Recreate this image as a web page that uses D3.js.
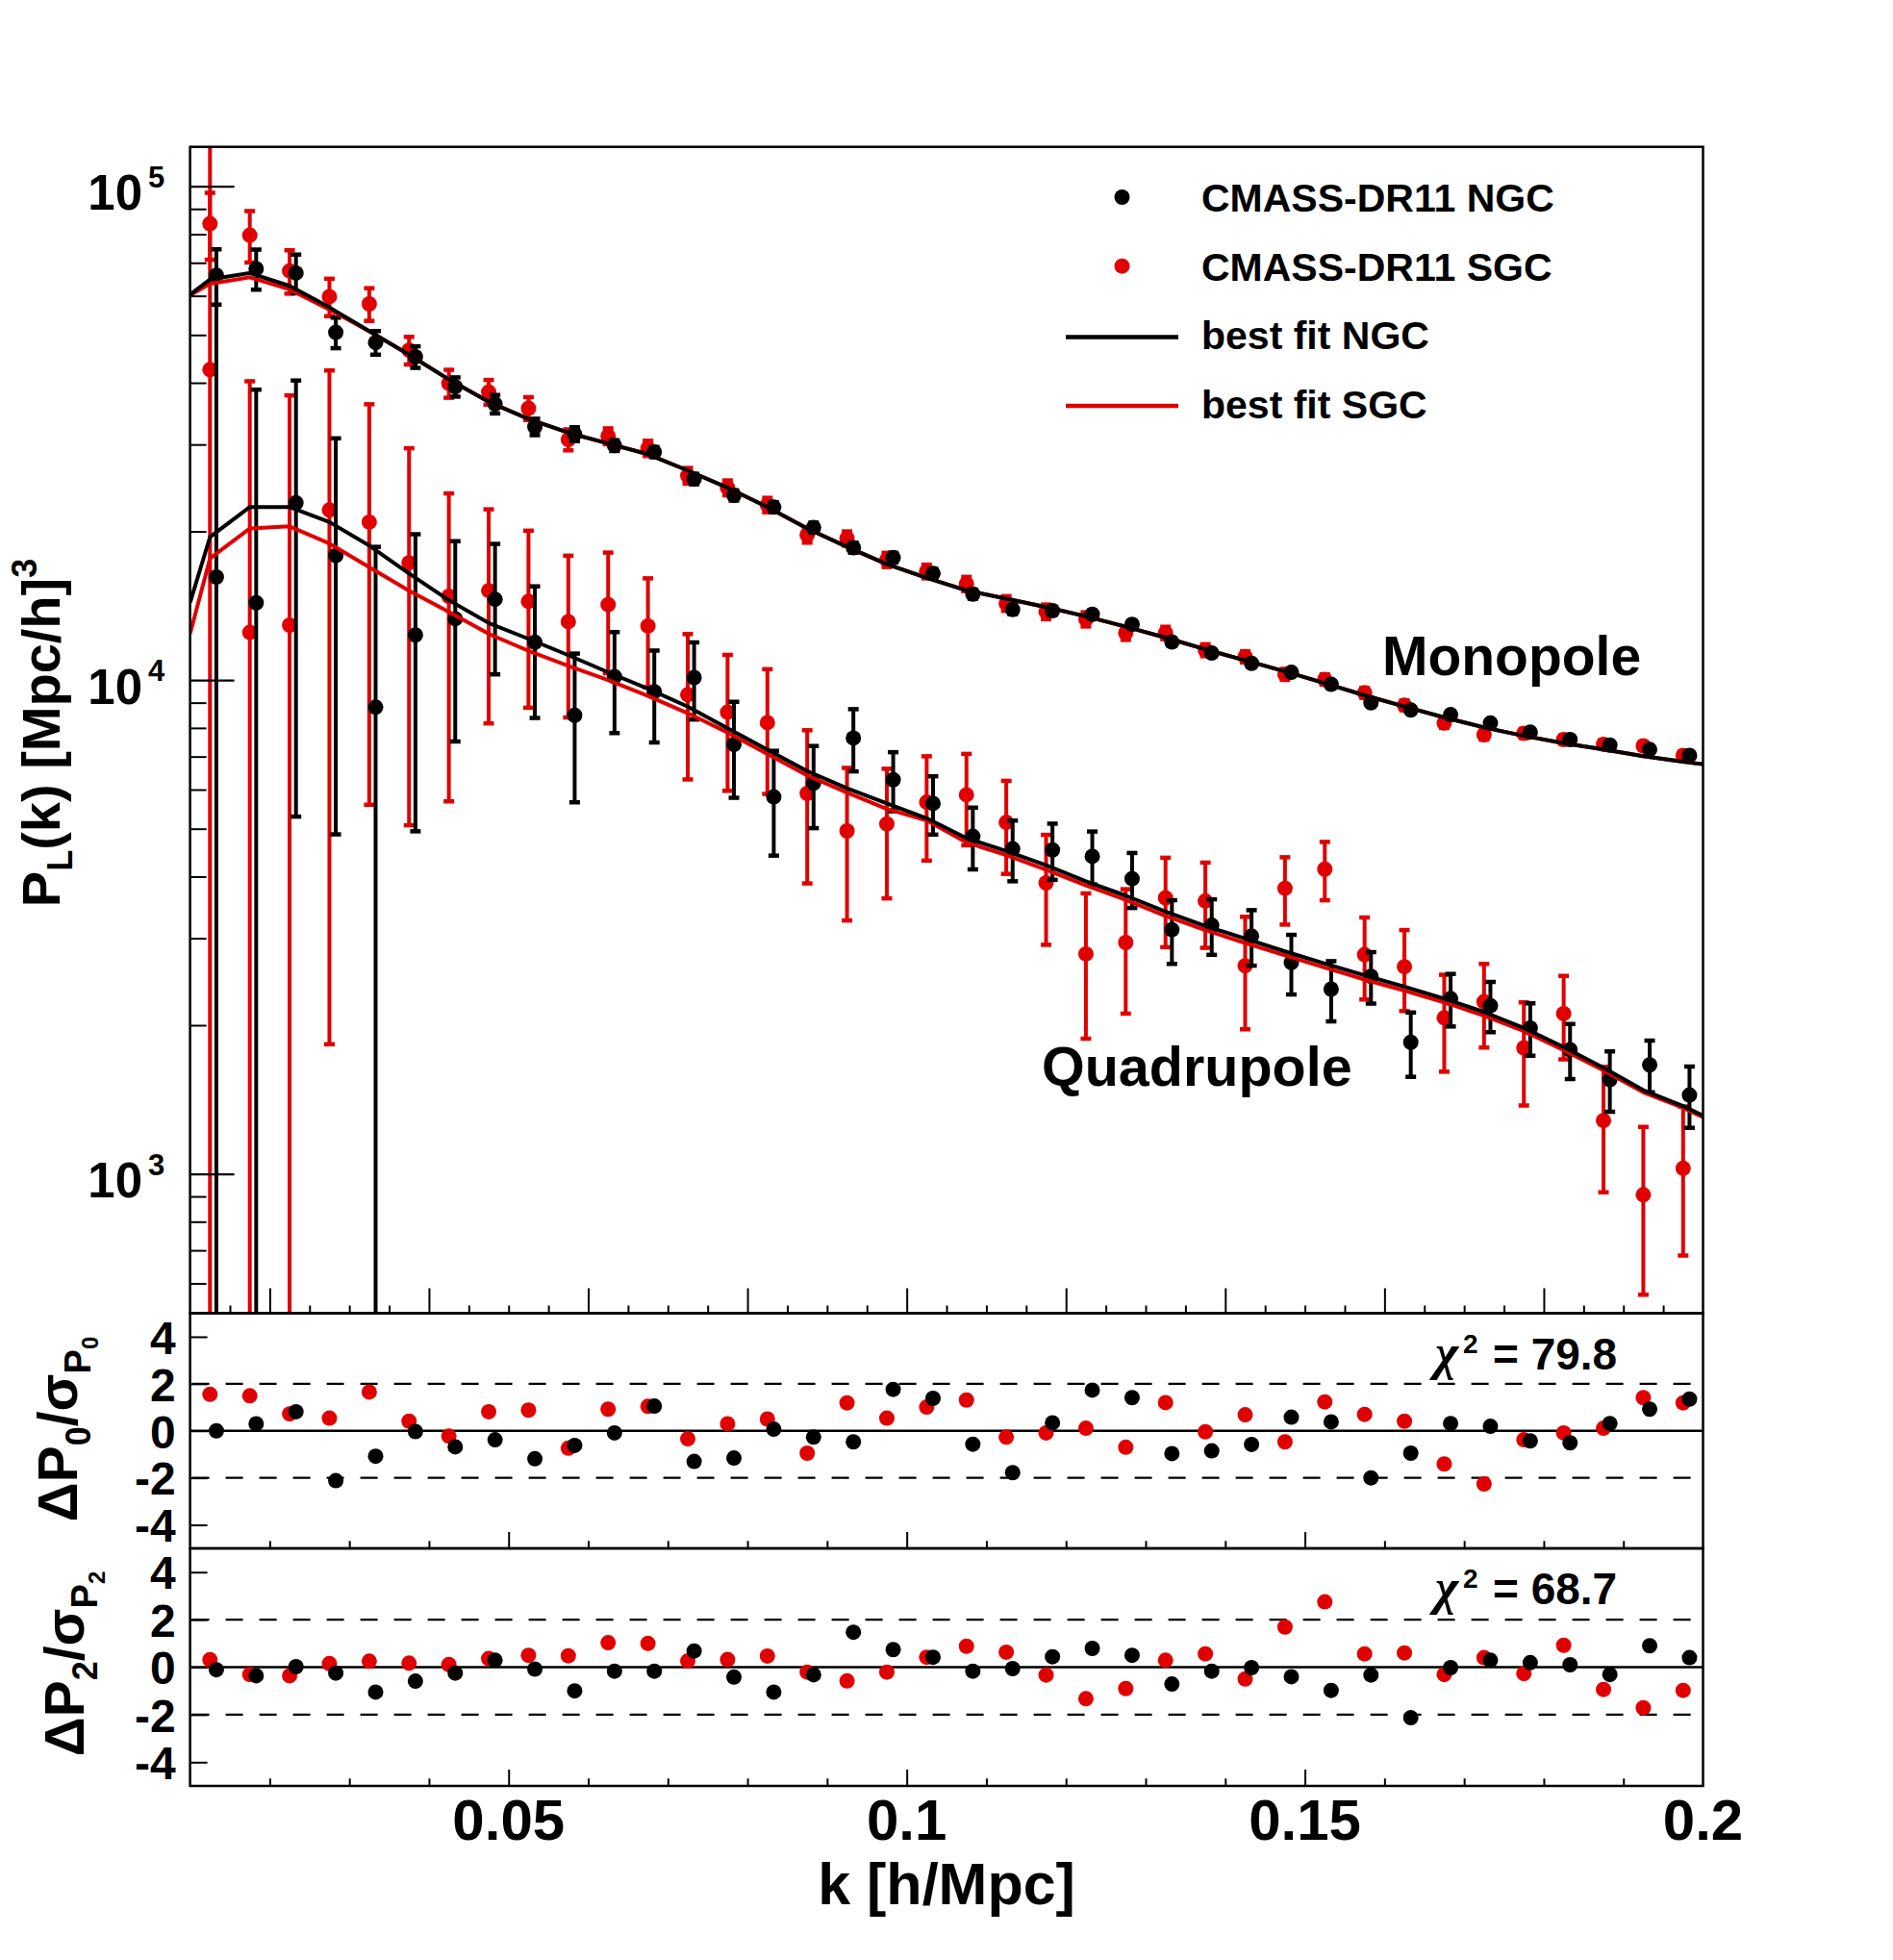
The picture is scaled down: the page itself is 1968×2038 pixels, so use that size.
<!DOCTYPE html>
<html>
<head>
<meta charset="utf-8">
<script src="https://cdn.jsdelivr.net/npm/d3@7/dist/d3.min.js"></script>
<style>
html,body{margin:0;padding:0;background:#ffffff;}
svg text{font-family:"Liberation Sans",Arial,Helvetica,sans-serif;font-weight:bold;fill:#000;}
</style>
</head>
<body>
<svg id="chart" width="1968" height="2038" xmlns="http://www.w3.org/2000/svg"></svg>
<script>
// ---------------- data ----------------
const kNGC = [0.0133,0.0183,0.0233,0.0283,0.0333,0.0383,0.0433,0.0483,0.0533,0.0583,0.0633,0.0683,0.0733,0.0783,0.0833,0.0883,0.0933,0.0983,0.1033,0.1083,0.1133,0.1183,0.1233,0.1283,0.1333,0.1383,0.1433,0.1483,0.1533,0.1583,0.1633,0.1683,0.1733,0.1783,0.1833,0.1883,0.1933,0.1983];
const kSGC = [0.0125,0.0175,0.0225,0.0275,0.0325,0.0375,0.0425,0.0475,0.0525,0.0575,0.0625,0.0675,0.0725,0.0775,0.0825,0.0875,0.0925,0.0975,0.1025,0.1075,0.1125,0.1175,0.1225,0.1275,0.1325,0.1375,0.1425,0.1475,0.1525,0.1575,0.1625,0.1675,0.1725,0.1775,0.1825,0.1875,0.1925,0.1975];
const kModel = [0.01,0.0125,0.0175,0.0225,0.0275,0.0325,0.0375,0.0425,0.0475,0.0525,0.0575,0.0625,0.0675,0.0725,0.0775,0.0825,0.0875,0.0925,0.0975,0.1025,0.1075,0.1125,0.1175,0.1225,0.1275,0.1325,0.1375,0.1425,0.1475,0.1525,0.1575,0.1625,0.1675,0.1725,0.1775,0.1825,0.1875,0.1925,0.1975,0.2];

const monoNGC = [66070,68100,66740,50600,48260,45150,39260,36230,32580,31500,29850,28960,25540,23660,22400,20370,18540,17700,16440,14930,13890,13820,13590,12970,11940,11340,10810,10370,9802,8995,8694,8513,8185,7841,7577,7385,7235,7040];
const monoNGCerr = [8500,6350,6000,3600,2660,2270,1760,1560,1250,1015,750,680,620,560,510,470,430,400,360,320,290,260,240,220,200,185,170,160,150,135,125,118,110,105,100,95,92,90];
const monoSGC = [84000,79600,67420,59780,57780,46560,39900,38330,35510,30690,31190,29480,25940,24520,22630,19680,19360,17520,16600,15660,14300,13750,13280,12460,12460,11500,11150,10270,10030,9424,8892,8185,7748,7801,7577,7411,7360,7040];
const monoSGCerr = [13000,9500,6800,5200,4400,3000,2600,2200,1900,1500,1150,1050,950,850,760,700,640,580,530,520,490,470,440,400,360,320,290,260,240,220,200,185,170,160,150,145,140,135];

const quadNGC = [16170,14340,22860,17870,8812,12340,13310,14570,11930,8485,10160,9475,10120,7406,5800,6183,7632,6284,5625,4826,4553,4529,4395,3960,3122,3187,3030,2678,2366,2512,1847,2264,2191,1974,1784,1552,1662,1444];
const quadNGCerr = [50000,24400,17570,13000,9800,7400,5800,4300,3550,2830,2350,2000,1800,1630,1390,1170,1100,860,760,690,640,590,540,505,460,410,390,370,330,300,275,276,256,240,228,217,200,205];
const quadSGC = [42540,12490,12920,22100,20890,17280,14780,15170,14430,13130,14220,12870,9341,8606,8200,5894,4949,5113,5659,5858,5150,3884,2788,2941,3622,3569,2639,3787,4141,2780,2627,2070,2231,1800,2111,1282,907,1026];
const quadSGCerr = [90000,27800,24800,20270,15300,12200,9100,7000,5640,4730,3900,3200,3050,2640,2320,2020,1690,1500,1350,1230,1100,975,910,830,745,700,677,590,560,525,490,460,430,425,405,365,338,343];

const modelMonoNGC = [60380,64770,66740,62850,56860,50930,45620,40620,36600,33790,31690,30140,28670,26570,24520,22410,20280,18610,17170,16110,15190,14620,14050,13460,12830,12190,11540,10960,10410,9853,9312,8843,8400,8020,7709,7448,7234,7015,6836,6755];
const modelMonoSGC = [60130,63480,65430,61840,56290,50830,45620,40620,36600,33790,31690,30140,28670,26570,24520,22410,20280,18610,17170,16110,15190,14620,14050,13460,12830,12190,11540,10960,10410,9853,9312,8843,8400,8020,7709,7448,7234,7015,6836,6755];
const modelQuadNGC = [14340,19480,22410,22410,20890,18720,16430,14510,13050,12120,11230,10370,9608,8834,7990,7231,6543,6038,5628,5250,4784,4508,4217,3914,3660,3398,3177,2995,2822,2667,2523,2395,2264,2127,1974,1806,1640,1477,1372,1312];
const modelQuadSGC = [12410,17630,20280,20480,18900,16930,15170,13740,12410,11460,10680,10000,9287,8570,7831,7087,6412,5918,5484,5196,4690,4420,4130,3840,3590,3330,3115,2935,2770,2615,2475,2350,2225,2090,1945,1780,1620,1462,1360,1302];

const resMonoNGC = [0.0,0.30,0.81,-2.12,-1.08,-0.03,-0.68,-0.38,-1.19,-0.62,-0.09,1.05,-1.30,-1.16,0.07,-0.27,-0.47,1.76,1.38,-0.57,-1.78,0.34,1.73,1.41,-0.97,-0.85,-0.58,0.58,0.38,-2.0,-0.95,0.31,0.19,-0.43,-0.51,0.31,0.92,1.35];
const resMonoSGC = [1.55,1.49,0.72,0.54,1.65,0.41,-0.23,0.81,0.88,-0.74,0.92,1.04,-0.34,0.30,0.50,-0.95,1.19,0.54,1.01,1.31,-0.27,-0.09,0.11,-0.70,1.20,-0.04,0.68,-0.47,1.23,0.70,0.41,-1.41,-2.26,-0.38,-0.09,0.11,1.41,1.19];
const resQuadNGC = [-0.11,-0.36,0.02,-0.25,-1.05,-0.59,-0.25,0.29,-0.08,-1.0,-0.17,-0.17,0.68,-0.42,-1.05,-0.32,1.47,0.74,0.42,-0.17,-0.06,0.44,0.79,0.50,-0.71,-0.17,-0.02,-0.40,-0.98,-0.33,-2.13,-0.02,0.29,0.19,0.10,-0.31,0.90,0.40];
const resQuadSGC = [0.31,-0.31,-0.36,0.15,0.25,0.17,0.11,0.36,0.50,0.48,1.03,1.0,0.26,0.32,0.47,-0.21,-0.58,-0.21,0.42,0.88,0.63,-0.33,-1.33,-0.90,0.29,0.56,-0.50,1.69,2.75,0.56,0.60,-0.31,0.40,-0.27,0.92,-0.94,-1.71,-0.98];

const chi2Labels = ["79.8","68.7"];
const xTickValues = [0.05,0.1,0.15,0.2];
const xTickLabels = ["0.05","0.1","0.15","0.2"];
const yMajorTicks = [1000,10000,100000];
const yTickExponents = ["3","4","5"];
const resTickValues = [-4,-2,0,2,4];
const resTickLabels = ["-4","-2","0","2","4"];
const legendLabels = ["CMASS-DR11 NGC","CMASS-DR11 SGC","best fit NGC","best fit SGC"];

// ---------------- layout ----------------
const W=1968, H=2038;
const L=197.6, R=1770.5, T=152.7, B0=1365.5, B1=1610, B2=1857;
const RED="#e00000", BLK="#000000";

const x = d3.scaleLinear().domain([0.01,0.2]).range([L,R]);
const y = d3.scaleLog().domain([522,120200]).range([B0,T]);
const yr1 = d3.scaleLinear().domain([-5,5]).range([B1,B0]);
const yr2 = d3.scaleLinear().domain([-5,5]).range([B2,B1]);

const svg = d3.select("#chart");
svg.append("rect").attr("x",0).attr("y",0).attr("width",W).attr("height",H).attr("fill","#fff");
const defs = svg.append("defs");
defs.append("clipPath").attr("id","clipMain").append("rect")
  .attr("x",L).attr("y",T).attr("width",R-L).attr("height",B0-T);

// ---------------- main panel data ----------------
const main = svg.append("g").attr("clip-path","url(#clipMain)");

function drawPoints(parent, ks, vals, errs, color){
  const gg = parent.append("g");
  const idx = d3.range(ks.length);
  gg.selectAll("line.bar").data(idx).join("line").attr("class","bar")
    .attr("x1",i=>x(ks[i])).attr("x2",i=>x(ks[i]))
    .attr("y1",i=>y(vals[i]+errs[i]))
    .attr("y2",i=>y(Math.max(vals[i]-errs[i],1)))
    .attr("stroke",color).attr("stroke-width",4);
  const caps=[];
  idx.forEach(i=>{
    caps.push([ks[i], vals[i]+errs[i]]);
    if(vals[i]-errs[i]>0) caps.push([ks[i], vals[i]-errs[i]]);
  });
  gg.selectAll("line.cap").data(caps).join("line").attr("class","cap")
    .attr("x1",d=>x(d[0])-5.5).attr("x2",d=>x(d[0])+5.5)
    .attr("y1",d=>y(d[1])).attr("y2",d=>y(d[1]))
    .attr("stroke",color).attr("stroke-width",4.5);
  gg.selectAll("circle").data(idx).join("circle")
    .attr("cx",i=>x(ks[i])).attr("cy",i=>y(vals[i])).attr("r",8).attr("fill",color);
}
drawPoints(main, kSGC, monoSGC, monoSGCerr, RED);
drawPoints(main, kSGC, quadSGC, quadSGCerr, RED);
drawPoints(main, kNGC, monoNGC, monoNGCerr, BLK);
drawPoints(main, kNGC, quadNGC, quadNGCerr, BLK);

const lineGen = d3.line().x((d,i)=>x(kModel[i])).y(d=>y(d));
[[modelMonoSGC,RED],[modelQuadSGC,RED],[modelMonoNGC,BLK],[modelQuadNGC,BLK]].forEach(([arr,c])=>{
  main.append("path").datum(arr).attr("d",lineGen).attr("fill","none")
    .attr("stroke",c).attr("stroke-width",4).attr("stroke-linejoin","round");
});

// ---------------- residual panels ----------------
function residualPanel(ys, resN, resS){
  const gg = svg.append("g");
  [-2,2].forEach(v=>{
    gg.append("line").attr("x1",L+2).attr("x2",R).attr("y1",ys(v)).attr("y2",ys(v))
      .attr("stroke","#000").attr("stroke-width",2.2).attr("stroke-dasharray","18,17");
  });
  gg.append("line").attr("x1",L).attr("x2",R).attr("y1",ys(0)).attr("y2",ys(0))
    .attr("stroke","#000").attr("stroke-width",2.5);
  gg.selectAll("circle.s").data(resS).join("circle").attr("class","s")
    .attr("cx",(d,i)=>x(kSGC[i])).attr("cy",d=>ys(d)).attr("r",8).attr("fill",RED);
  gg.selectAll("circle.n").data(resN).join("circle").attr("class","n")
    .attr("cx",(d,i)=>x(kNGC[i])).attr("cy",d=>ys(d)).attr("r",8).attr("fill",BLK);
  const ax = gg.append("g").attr("transform",`translate(${L},0)`)
    .call(d3.axisLeft(ys).tickValues(resTickValues).tickSize(-18).tickPadding(15)
      .tickFormat((d,i)=>resTickLabels[i]));
  ax.select(".domain").remove();
  ax.selectAll("line").attr("stroke","#000").attr("stroke-width",2);
  ax.selectAll("text").attr("font-size",48).attr("font-family",null).attr("dy","0.36em");
  const bottom = ys.range()[0];
  const minor = d3.range(0.02,0.2,0.01).filter(v=>Math.abs(v/0.05-Math.round(v/0.05))>1e-6);
  const mx = gg.append("g").attr("transform",`translate(0,${bottom})`)
    .call(d3.axisBottom(x).tickValues(minor).tickSize(-7.7).tickFormat(""));
  mx.select(".domain").remove();
  mx.selectAll("line").attr("stroke","#000").attr("stroke-width",2);
  const Mx = gg.append("g").attr("transform",`translate(0,${bottom})`)
    .call(d3.axisBottom(x).tickValues([0.05,0.1,0.15]).tickSize(-17).tickFormat(""));
  Mx.select(".domain").remove();
  Mx.selectAll("line").attr("stroke","#000").attr("stroke-width",2);
}
residualPanel(yr1, resMonoNGC, resMonoSGC);
residualPanel(yr2, resQuadNGC, resQuadSGC);

// ---------------- main panel axes ----------------
const yMinor = [];
[100,1000,10000].forEach(dec=>{ for(let m=2;m<=9;m++){ const v=m*dec; if(v>522 && v<120200) yMinor.push(v);} });
const ymin = svg.append("g").attr("transform",`translate(${L},0)`)
  .call(d3.axisLeft(y).tickValues(yMinor).tickSize(-17).tickFormat(""));
ymin.select(".domain").remove();
ymin.selectAll("line").attr("stroke","#000").attr("stroke-width",2);
const ymaj = svg.append("g").attr("transform",`translate(${L},0)`)
  .call(d3.axisLeft(y).tickValues(yMajorTicks).tickSize(-46).tickFormat(""));
ymaj.select(".domain").remove();
ymaj.selectAll("line").attr("stroke","#000").attr("stroke-width",2.2);

yMajorTicks.forEach((v,i)=>{
  const ty = y(v);
  svg.append("text").attr("x",148).attr("y",ty+24.5).attr("text-anchor","end")
    .attr("font-size",51).text("10");
  svg.append("text").attr("x",154).attr("y",ty+1).attr("text-anchor","start")
    .attr("font-size",31).text(yTickExponents[i]);
});

const mainMinorX = d3.range(0.015,0.2,0.005).filter(v=>Math.abs(v/0.02-Math.round(v/0.02))>1e-6);
const mainMajorX = d3.range(0.02,0.195,0.02);
const xmin = svg.append("g").attr("transform",`translate(0,${B0})`)
  .call(d3.axisBottom(x).tickValues(mainMinorX).tickSize(-8).tickFormat(""));
xmin.select(".domain").remove();
xmin.selectAll("line").attr("stroke","#000").attr("stroke-width",2);
const xmaj = svg.append("g").attr("transform",`translate(0,${B0})`)
  .call(d3.axisBottom(x).tickValues(mainMajorX).tickSize(-26).tickFormat(""));
xmaj.select(".domain").remove();
xmaj.selectAll("line").attr("stroke","#000").attr("stroke-width",2);

// x tick labels (bottom)
xTickValues.forEach((v,i)=>{
  svg.append("text").attr("x",x(v)).attr("y",1913).attr("text-anchor","middle")
    .attr("font-size",60).text(xTickLabels[i]);
});
svg.append("text").attr("x",(L+R)/2).attr("y",1980).attr("text-anchor","middle")
  .attr("font-size",61).text("k [h/Mpc]");

// y title main
const yt = svg.append("text").attr("transform","translate(62,762) rotate(-90)")
  .attr("text-anchor","middle").attr("font-size",56);
yt.append("tspan").text("P");
yt.append("tspan").attr("font-size",36).attr("dy",13).text("L");
yt.append("tspan").attr("dy",-13).text("(k) [Mpc/h]");
yt.append("tspan").attr("font-size",36).attr("dy",-24).text("3");

// residual titles
function resTitle(cx, cy, l){
  const t = svg.append("text").attr("transform",`translate(${cx},${cy}) rotate(-90)`)
    .attr("text-anchor","middle").attr("font-size",57);
  t.append("tspan").text("\u0394P");
  t.append("tspan").attr("font-size",36).attr("dy",14).text(l);
  t.append("tspan").attr("dy",-14).text("/\u03C3");
  t.append("tspan").attr("font-size",38).attr("dy",14).text("P");
  t.append("tspan").attr("font-size",24).attr("dy",8).text(l);
}
resTitle(80, 1486, "0");
resTitle(87, 1730, "2");

// chi2 labels
[[1424, chi2Labels[0]],[1668, chi2Labels[1]]].forEach(([by,val])=>{
  svg.append("text").attr("x",1492).attr("y",by).attr("font-size",52)
    .style("font-family","'Liberation Serif','DejaVu Serif',serif").style("font-style","italic")
    .style("font-weight","bold").text("\u03C7");
  svg.append("text").attr("x",1521).attr("y",by-17).attr("font-size",28).text("2");
  svg.append("text").attr("x",1552).attr("y",by).attr("font-size",46).text("= "+val);
});

// curve labels
svg.append("text").attr("x",1437).attr("y",702).attr("font-size",57).text("Monopole");
svg.append("text").attr("x",1083).attr("y",1129).attr("font-size",57.5).text("Quadrupole");

// legend
legendLabels.forEach((lab,i)=>{
  const by = 220 + i*71.7;
  const col = (i%2===0)?BLK:RED;
  if(i<2){
    svg.append("circle").attr("cx",1166.5).attr("cy",by-15).attr("r",8).attr("fill",col);
  } else {
    svg.append("line").attr("x1",1108).attr("x2",1225).attr("y1",by-13).attr("y2",by-13)
      .attr("stroke",col).attr("stroke-width",4.5);
  }
  svg.append("text").attr("x",1249).attr("y",by).attr("font-size",41).text(lab);
});

// frames
[[T,B0],[B0,B1],[B1,B2]].forEach(([a,b])=>{
  svg.append("rect").attr("x",L).attr("y",a).attr("width",R-L).attr("height",b-a)
    .attr("fill","none").attr("stroke","#000").attr("stroke-width",2.5);
});
</script>
</body>
</html>
